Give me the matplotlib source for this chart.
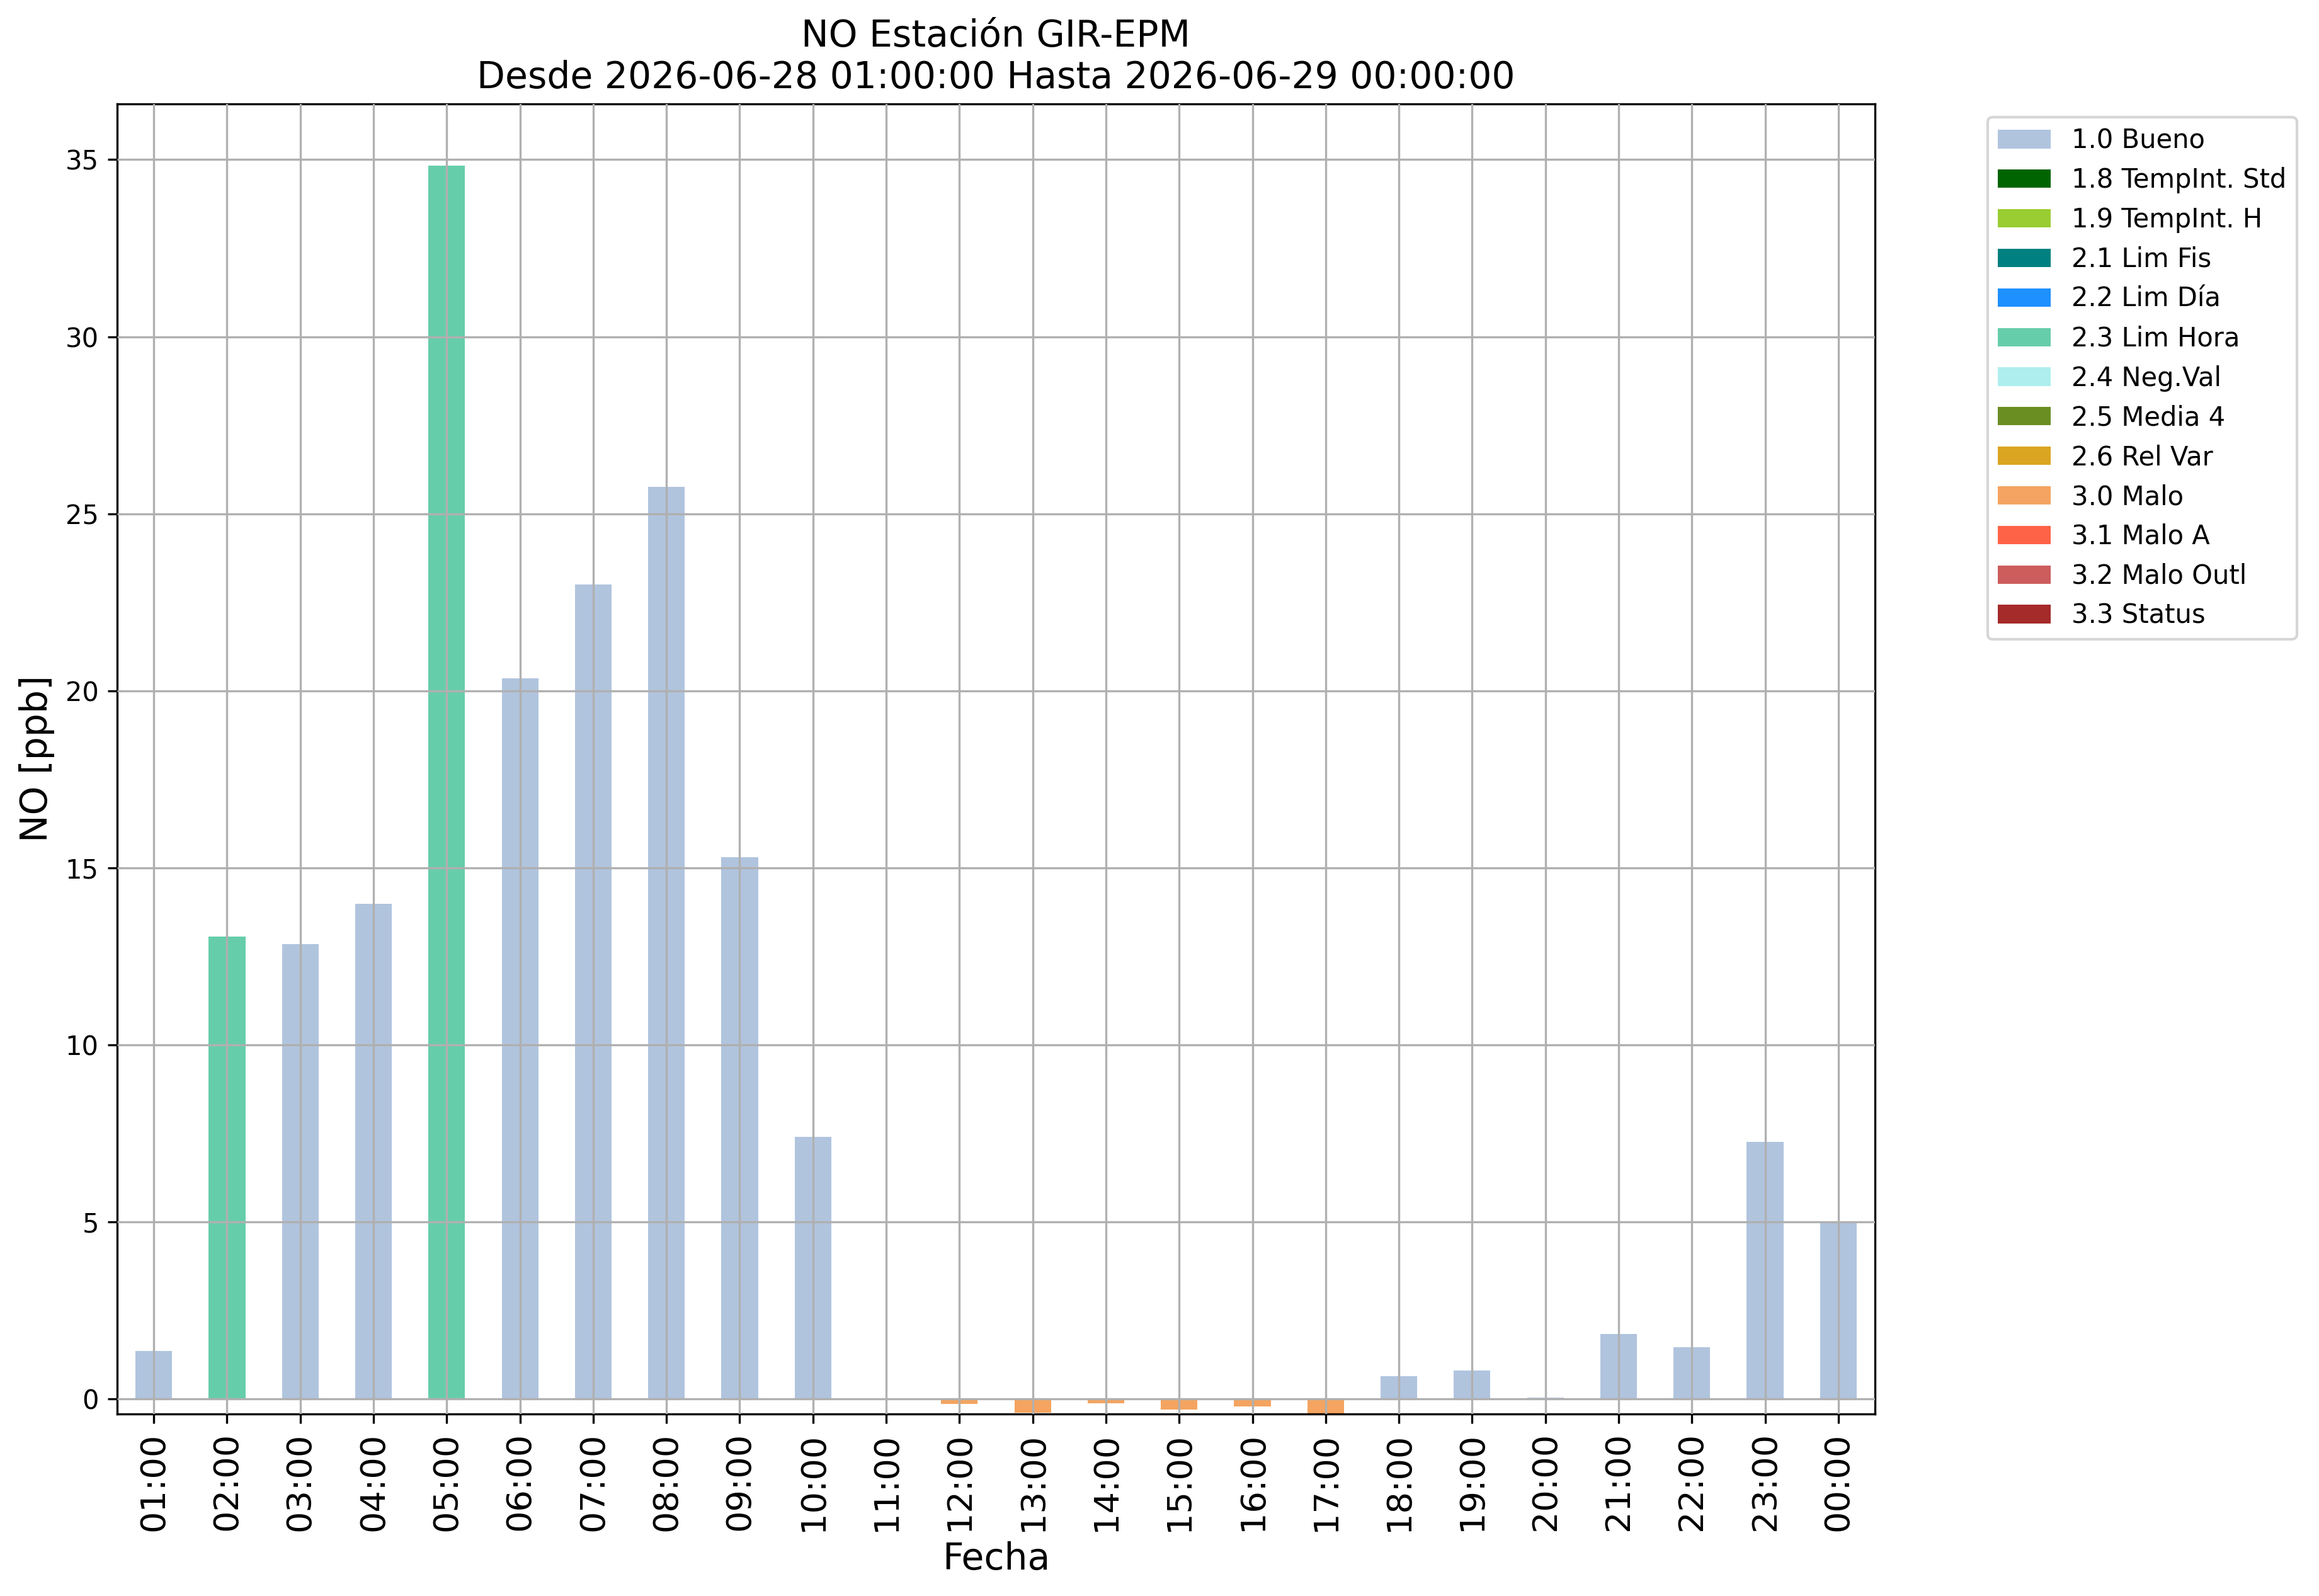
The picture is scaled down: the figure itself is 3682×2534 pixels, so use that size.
import numpy as np
import matplotlib
matplotlib.use('Agg')
import matplotlib.pyplot as plt

# horas del dia
horas = ['01:00', '02:00', '03:00', '04:00', '05:00', '06:00', '07:00', '08:00',
         '09:00', '10:00', '11:00', '12:00', '13:00', '14:00', '15:00', '16:00',
         '17:00', '18:00', '19:00', '20:00', '21:00', '22:00', '23:00', '00:00']

# valores NO [ppb] (11:00 sin dato)
valores = [1.35, 13.06, 12.85, 13.98, 34.83, 20.35, 23.0, 25.75,
           15.31, 7.41, np.nan, -0.14, -0.39, -0.11, -0.29, -0.2,
           -0.42, 0.64, 0.8, 0.04, 1.83, 1.46, 7.26, 4.97]

# bandera de calidad de cada hora
banderas = ['1.0 Bueno', '2.3 Lim Hora', '1.0 Bueno', '1.0 Bueno', '2.3 Lim Hora',
            '1.0 Bueno', '1.0 Bueno', '1.0 Bueno', '1.0 Bueno', '1.0 Bueno',
            '1.0 Bueno', '3.0 Malo', '3.0 Malo', '3.0 Malo', '3.0 Malo', '3.0 Malo',
            '3.0 Malo', '1.0 Bueno', '1.0 Bueno', '1.0 Bueno', '1.0 Bueno',
            '1.0 Bueno', '1.0 Bueno', '1.0 Bueno']

categorias = ['1.0 Bueno', '1.8 TempInt. Std', '1.9 TempInt. H', '2.1 Lim Fis',
              '2.2 Lim Día', '2.3 Lim Hora', '2.4 Neg.Val', '2.5 Media 4',
              '2.6 Rel Var', '3.0 Malo', '3.1 Malo A', '3.2 Malo Outl', '3.3 Status']
colores = ['lightsteelblue', 'darkgreen', 'yellowgreen', 'teal', 'dodgerblue',
           'mediumaquamarine', 'paleturquoise', 'olivedrab', 'goldenrod',
           'sandybrown', 'tomato', 'indianred', 'brown']

fig = plt.figure(figsize=(3682 / 300, 2534 / 300), dpi=300)
ax = fig.add_axes([186 / 3682, 1 - 2245 / 2534, 2791 / 3682, 2080 / 2534])

x = np.arange(len(horas))
vals = np.array(valores, dtype=float)
flags = np.array(banderas)
for cat, col in zip(categorias, colores):
    serie = np.where(flags == cat, vals, np.nan)
    ax.bar(x, serie, width=0.5, color=col, label=cat, zorder=2)

ax.set_axisbelow(False)
ax.grid(True, zorder=3)
ax.set_xlim(-0.5, len(horas) - 0.5)
ax.set_ylim(np.nanmin(vals), np.nanmax(vals) * 1.05)
ax.set_xticks(x)
ax.set_xticklabels(horas, rotation=90, fontsize=13)
ax.tick_params(axis='y', labelsize=10)

ax.set_xlabel('Fecha', fontsize=14)
ax.set_ylabel('NO [ppb]', fontsize=14)
ax.set_title('NO Estación GIR-EPM\nDesde 2026-06-28 01:00:00 Hasta 2026-06-29 00:00:00', fontsize=14)
ax.legend(bbox_to_anchor=(1.0565, 1), loc='upper left', fontsize=10)

fig.savefig('out.png', dpi=300)
